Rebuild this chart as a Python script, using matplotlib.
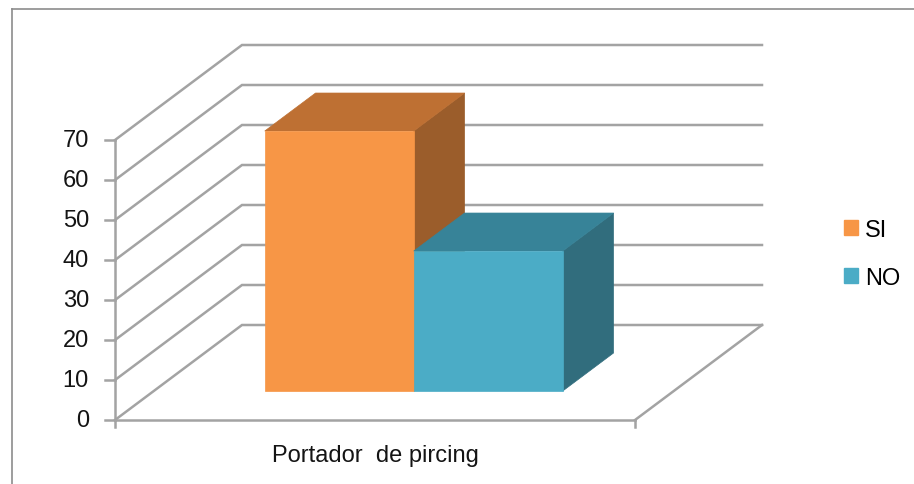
import numpy as np
import matplotlib.pyplot as plt
from matplotlib.patches import Polygon, Patch
from matplotlib.lines import Line2D

plt.rcParams['font.family'] = ['Liberation Sans', 'DejaVu Sans']

#%% data
category = "Portador  de pircing"
series = ["SI", "NO"]
values = [65, 35]
colors_front = ["#F79646", "#4BACC6"]
colors_top = ["#BE7033", "#378398"]
colors_side = ["#9B5D2B", "#316D7D"]
yticks = [0, 10, 20, 30, 40, 50, 60, 70]

#%% oblique projection: x along floor (0..1), v = value, z = depth (0..1)
DX = 127 / 520
DY = 95 / 4

def proj(x, v, z):
    return (x + z * DX, v + z * DY)

fig = plt.figure(figsize=(9.14, 4.85), dpi=100)
ax = fig.add_axes([0, 0, 1, 1])
ax.set_xlim(-115 / 520, (914 - 115) / 520)
ax.set_ylim(-64 / 4, (485 - 64) / 4)
ax.axis('off')

grid_col = '#a3a3a3'
lw = 1.8
txt_col = '#141414'
fs = 17

# walls: side-wall diagonals and back-wall lines for every tick
for v in yticks:
    p0 = proj(0, v, 0)
    p1 = proj(0, v, 1)
    p2 = proj(1, v, 1)
    ax.plot([p0[0], p1[0], p2[0]], [p0[1], p1[1], p2[1]], color=grid_col, lw=lw,
            zorder=1, solid_joinstyle='miter')

# floor: right edge and front edge
p0 = proj(1, 0, 0)
p1 = proj(1, 0, 1)
ax.plot([p0[0], p1[0]], [p0[1], p1[1]], color=grid_col, lw=lw, zorder=1)
ax.plot([0, 1], [0, 0], color=grid_col, lw=lw, zorder=1)

# value axis with ticks on the front edge
ax.plot([0, 0], [0, yticks[-1]], color=grid_col, lw=lw, zorder=1)
tick_len = 10 / 520
for v in yticks:
    ax.plot([-tick_len, 0], [v, v], color=grid_col, lw=lw, zorder=1)
    ax.text(-26 / 520, v, str(v), ha='right', va='center', fontsize=fs, color=txt_col)
# category ticks
for x in [0, 1]:
    ax.plot([x, x], [0, -7 / 4], color=grid_col, lw=lw, zorder=1)

ax.text(0.5, -8.8, category, ha='center', va='center', fontsize=fs, color=txt_col)

#%% bars
z0, z1 = 0.305, 0.705
bar_w = 0.2865
left0 = 0.5 - bar_w * len(values) / 2
for i, (val, cf, ct, cs) in enumerate(zip(values, colors_front, colors_top, colors_side)):
    xl = left0 + i * bar_w
    xr = xl + bar_w
    front = [proj(xl, 0, z0), proj(xr, 0, z0), proj(xr, val, z0), proj(xl, val, z0)]
    top = [proj(xl, val, z0), proj(xr, val, z0), proj(xr, val, z1), proj(xl, val, z1)]
    side = [proj(xr, 0, z0), proj(xr, 0, z1), proj(xr, val, z1), proj(xr, val, z0)]
    for pts, c in [(side, cs), (top, ct), (front, cf)]:
        ax.add_patch(Polygon(pts, closed=True, facecolor=c, edgecolor=c, lw=0.5, zorder=2 + i))

#%% legend
handles = [Patch(facecolor=c, edgecolor=c) for c in colors_front]
fig.legend(handles, series, loc='center left', bbox_to_anchor=(0.9, 0.474),
           bbox_transform=fig.transFigure, frameon=False, fontsize=fs,
           handlelength=0.6, handleheight=0.6, handletextpad=0.3, labelspacing=1.1)

# chart border
border = '#8c8c8c'
fig.add_artist(Line2D([11.5 / 914, 11.5 / 914], [0, 475.5 / 485], color=border, lw=1.2,
                      transform=fig.transFigure))
fig.add_artist(Line2D([11.5 / 914, 1], [475.5 / 485, 475.5 / 485], color=border, lw=1.2,
                      transform=fig.transFigure))

plt.savefig('out.png', dpi=100)
